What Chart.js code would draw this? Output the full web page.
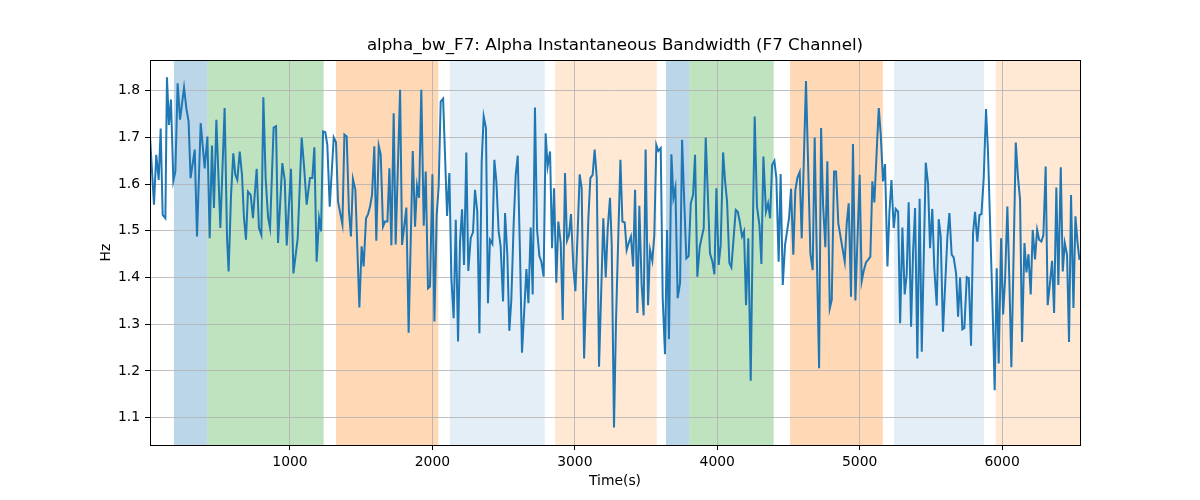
<!DOCTYPE html>
<html>
<head>
<meta charset="utf-8">
<script src="https://cdn.jsdelivr.net/npm/chart.js@4/dist/chart.umd.min.js"></script>
<style>
  body { margin: 0; background: #fff; }
  canvas { display: block; }
</style>
</head>
<body>
<canvas id="chart_bw" width="1200" height="500"></canvas>
<script>
/* data */
const times = [17,45,61,78,92,106,125,136,150,164,181,195,211,228,256,272,288,302,331,347,373,401,420,436,452,466,483,511,541,558,569,586,602,616,630,647,663,677,691,705,724,740,766,782,799,813,829,846,860,885,902,916,946,963,977,1007,1024,1054,1082,1098,1117,
  1140,1157,1171,1187,1204,1218,1232,1248,1262,1279,1307,1323,1337,1368,1382,1398,1414,1428,1442,1459,1487,1503,1517,1534,1548,1562,1576,1592,1606,1623,1637,1653,1667,1684,1698,1712,1728,1742,1773,1787,1817,1833,1862,1878,1892,1906,1922,1939,1953,1969,1983,2000,2014,2030,2044,2058,2075,2103,2119,2133,2149,2164,2180,
  2194,2208,2222,2238,2252,2269,2285,2299,2315,2330,2346,2360,2376,2390,2404,2421,2435,2449,2465,2479,2496,2510,2526,2540,2554,2571,2585,2599,2615,2629,2660,2674,2690,2704,2720,2735,2751,2765,2781,2795,2809,2826,2840,2854,2870,2884,2901,2915,2931,2945,2959,2973,2990,3004,3020,3034,3048,3065,3095,3109,3125,3139,3154,3170,3200,3217,3231,3247,
  3259,3275,3289,3303,3320,3334,3350,3364,3380,3394,3409,3423,3439,3453,3469,3483,3497,3514,3528,3544,3558,3572,3586,3603,3617,3633,3647,3661,3678,3692,3706,3722,3739,3753,3769,3783,3799,3814,3830,3844,3860,3877,3905,3919,3949,3966,3980,3994,4010,4024,4041,4055,4069,4085,4099,4130,4144,4158,4174,4188,4202,4218,4235,4249,4263,4279,4296,4310,4324,
  4342,4357,4371,4385,4401,4415,4431,4445,4460,4476,4504,4518,4534,4548,4563,4579,4593,4623,4654,4670,4684,4698,4715,4729,4743,4759,4773,4790,4804,4820,4834,4850,4879,4895,4909,4923,4939,4953,4970,5000,5014,5028,5045,5059,5075,5089,5103,5120,5134,5148,5164,5178,5195,5209,5223,5239,5253,5270,5284,5300,5316,5330,5344,5361,5375,
  5389,5405,5421,5436,5464,5480,5494,5510,5524,5541,5555,5569,5585,5616,5630,5646,5660,5677,5691,5705,5721,5735,5752,5766,5782,5796,5810,5826,5841,5855,5871,5887,5901,5918,5932,5948,5962,5976,5993,6007,6021,6037,6051,6065,6082,6096,6112,6126,6140,6157,6171,6185,6201,6215,6231,6246,6260,6276,6290,6306,6320,6337,6351,6365,6381,6395,6412,6426,6440,6456,6470,6484,6501,6515,6529,6543];

const alpha_bw = [1.702,1.556,1.663,1.609,1.719,1.534,1.527,1.829,1.727,1.781,1.607,1.627,1.816,1.738,1.807,1.763,1.734,1.613,1.674,1.488,1.731,1.634,1.702,1.484,1.683,1.549,1.738,1.506,1.763,1.484,1.413,1.577,1.666,1.620,1.609,1.670,1.620,1.527,1.481,1.584,1.577,1.527,1.633,1.506,1.491,1.786,1.613,1.529,1.506,1.721,1.724,1.474,1.645,1.609,1.469,1.633,1.409,1.484,1.700,1.641,1.556,
  1.613,1.613,1.679,1.434,1.527,1.499,1.713,1.711,1.684,1.552,1.700,1.690,1.563,1.514,1.706,1.702,1.541,1.488,1.611,1.588,1.336,1.467,1.424,1.527,1.536,1.552,1.577,1.681,1.479,1.682,1.663,1.509,1.520,1.520,1.634,1.469,1.752,1.471,1.802,1.470,1.550,1.282,1.671,1.509,1.597,1.571,1.802,1.511,1.627,1.377,1.381,1.621,1.306,1.534,1.595,1.777,1.783,1.532,1.624,1.399,1.313,1.524,1.263,
  1.477,1.546,1.427,1.668,1.414,1.485,1.497,1.588,1.541,1.281,1.649,1.745,1.720,1.345,1.481,1.472,1.652,1.606,1.499,1.467,1.349,1.538,1.449,1.286,1.352,1.520,1.620,1.661,1.452,1.239,1.418,1.345,1.507,1.364,1.764,1.502,1.446,1.434,1.402,1.709,1.638,1.670,1.463,1.591,1.389,1.520,1.474,1.309,1.624,1.479,1.491,1.536,1.420,1.371,1.499,1.621,1.591,1.227,1.527,1.613,1.620,1.674,1.613,1.209,1.527,1.400,1.506,1.571,
  1.470,1.079,1.306,1.465,1.652,1.520,1.518,1.459,1.476,1.488,1.424,1.588,1.324,1.554,1.385,1.319,1.674,1.341,1.459,1.436,1.491,1.684,1.671,1.677,1.356,1.236,1.502,1.268,1.664,1.571,1.593,1.356,1.389,1.695,1.556,1.441,1.446,1.559,1.577,1.663,1.402,1.466,1.506,1.700,1.452,1.434,1.407,1.591,1.427,1.470,1.668,1.606,1.563,1.431,1.422,1.545,1.541,1.520,1.488,1.499,1.341,1.484,1.179,1.495,1.745,1.552,1.513,1.429,1.659,
  1.541,1.559,1.527,1.641,1.650,1.613,1.434,1.622,1.384,1.470,1.527,1.590,1.449,1.586,1.614,1.626,1.484,1.821,1.451,1.416,1.700,1.463,1.206,1.720,1.556,1.465,1.649,1.334,1.352,1.627,1.627,1.516,1.463,1.434,1.516,1.559,1.359,1.686,1.351,1.620,1.392,1.414,1.433,1.438,1.445,1.606,1.561,1.674,1.763,1.706,1.606,1.643,1.424,1.541,1.609,1.506,1.547,1.541,1.302,1.507,1.364,1.406,1.561,1.295,1.456,
  1.549,1.227,1.569,1.241,1.646,1.600,1.463,1.547,1.420,1.340,1.525,1.488,1.284,1.488,1.538,1.449,1.443,1.409,1.316,1.400,1.289,1.292,1.401,1.399,1.254,1.495,1.541,1.477,1.534,1.536,1.613,1.761,1.670,1.491,1.349,1.159,1.420,1.216,1.484,1.321,1.396,1.552,1.394,1.208,1.465,1.689,1.613,1.568,1.262,1.474,1.411,1.450,1.364,1.502,1.439,1.502,1.481,1.477,1.491,1.638,1.341,1.391,1.436,1.324,1.593,1.384,1.636,1.413,1.474,1.449,1.262,1.577,1.335,1.531,1.477,1.438];

// shaded periods (seconds)
const spanStart = [185, 419, 1323, 2123, 2861, 3640, 3804, 4511, 5241, 5955];
const spanEnd   = [419, 1236, 2041, 2788, 3575, 3804, 4396, 5162, 5873, 6560];
const spanColor = ['rgba(31,119,180,0.3)', 'rgba(44,160,44,0.3)', 'rgba(255,127,14,0.3)', 'rgba(31,119,180,0.12)', 'rgba(255,127,14,0.18)',
                   'rgba(31,119,180,0.3)', 'rgba(44,160,44,0.3)', 'rgba(255,127,14,0.3)', 'rgba(31,119,180,0.12)', 'rgba(255,127,14,0.18)'];

const xTicks = [1000, 2000, 3000, 4000, 5000, 6000];
const yTicks = [1.1, 1.2, 1.3, 1.4, 1.5, 1.6, 1.7, 1.8];

const FONT = "'DejaVu Sans', sans-serif";

/* 배경 구간 + 테두리 */
const spanPlugin = {
  id: 'spans',
  beforeDraw(chart) {
    const { ctx, chartArea, scales } = chart;
    ctx.save();
    ctx.beginPath();
    ctx.rect(chartArea.left, chartArea.top, chartArea.right - chartArea.left, chartArea.bottom - chartArea.top);
    ctx.clip();
    for (let i = 0; i < spanStart.length; i++) {
      const x0 = scales.x.getPixelForValue(spanStart[i]);
      const x1 = scales.x.getPixelForValue(spanEnd[i]);
      ctx.fillStyle = spanColor[i];
      ctx.fillRect(x0, chartArea.top, x1 - x0, chartArea.bottom - chartArea.top);
    }
    ctx.restore();
  },
  afterDraw(chart) {
    const { ctx, chartArea } = chart;
    ctx.save();
    ctx.strokeStyle = '#000';
    ctx.lineWidth = 1;
    ctx.strokeRect(Math.round(chartArea.left) + 0.5, Math.round(chartArea.top) + 0.5,
      Math.round(chartArea.right - chartArea.left), Math.round(chartArea.bottom - chartArea.top));
    ctx.restore();
  }
};

const points = times.map((t, i) => ({ x: t, y: alpha_bw[i] }));

const config = {
  type: 'line',
  data: {
    datasets: [{
      label: 'alpha_bw_F7',
      data: points,
      borderColor: '#1f77b4',
      borderWidth: 2,
      pointRadius: 0,
      tension: 0,
      fill: false
    }]
  },
  options: {
    responsive: false,
    animation: false,
    layout: { padding: { left: 0, right: 120, top: 0, bottom: 0 } },
    plugins: {
      legend: { display: false },
      tooltip: { enabled: false },
      title: {
        display: true,
        fullSize: false,
        text: 'alpha_bw_F7: Alpha Instantaneous Bandwidth (F7 Channel)',
        color: '#000',
        font: { family: FONT, size: 16.7, weight: 'normal' },
        padding: { top: 36, bottom: 4 }
      }
    },
    scales: {
      x: {
        type: 'linear',
        min: 17,
        max: 6547,
        afterBuildTicks: (s) => { s.ticks = xTicks.map(v => ({ value: v })); },
        afterFit: (s) => { s.height = 55; },
        ticks: { color: '#000', font: { family: FONT, size: 13.9 }, padding: 4, maxRotation: 0, callback: (v) => String(v) },
        grid: { color: '#b0b0b0', lineWidth: 0.8, tickColor: '#000', tickLength: 5, tickWidth: 1 },
        border: { display: true, color: '#000', width: 1 },
        title: { display: true, text: 'Time(s)', color: '#000', font: { family: FONT, size: 13.9 }, padding: { top: 0, bottom: 10.6 } }
      },
      y: {
        type: 'linear',
        min: 1.0415,
        max: 1.8658,
        afterBuildTicks: (s) => { s.ticks = yTicks.map(v => ({ value: v })); },
        afterFit: (s) => { s.width = 150; },
        ticks: { color: '#000', font: { family: FONT, size: 13.9 }, padding: 5, callback: (v) => v.toFixed(1) },
        grid: { color: '#b0b0b0', lineWidth: 0.8, tickColor: '#000', tickLength: 5, tickWidth: 1 },
        border: { display: true, color: '#000', width: 1 },
        title: { display: true, text: 'Hz', color: '#000', font: { family: FONT, size: 13.9 }, padding: { top: 97.6, bottom: 0 } }
      }
    }
  },
  plugins: [spanPlugin]
};

const ctx_bw = document.getElementById('chart_bw');
var chart_bw = new Chart(ctx_bw, config);
</script>
</body>
</html>
